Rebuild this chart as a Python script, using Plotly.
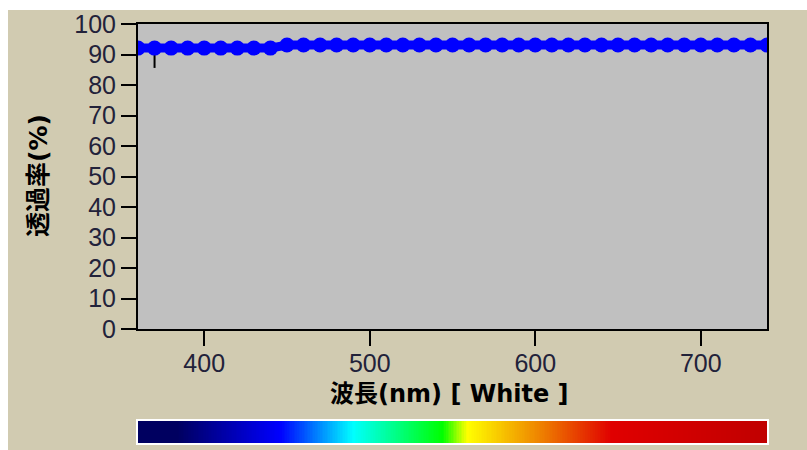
import plotly.graph_objects as go

# Transmittance spectrum of the "White" sample
wavelength_nm = list(range(360, 741, 10))
transmittance = [92.1] * 9 + [93.1] * 30

# single low reading at 370 nm
dip_nm = [370, 370]
dip_pct = [92.1, 85.6]

# visible-spectrum colour strip (wavelength -> colour stops)
spectrum_nm = [360, 384, 446, 490, 544, 559, 598, 646, 740]
spectrum_colors = ["#000060", "#000060", "#0000ff", "#00ffff", "#00ff00",
                   "#ffff00", "#f09000", "#e00000", "#c00000"]

x_ticks = [400, 500, 600, 700]
y_ticks = list(range(0, 101, 10))

W, H = 807, 450
BEIGE = "#d1cbb1"
FONT = "Liberation Sans, Arial, sans-serif"
TITLE_FONT = "DejaVu Sans, Noto Sans CJK JP, sans-serif"

left, right, top, bottom = 138, 767, 24, 329
strip_top, strip_bot = 421, 443

fig = go.Figure()

fig.add_trace(go.Scatter(
    x=dip_nm, y=dip_pct, mode="lines",
    line=dict(color="black", width=2), hoverinfo="skip", showlegend=False,
))
fig.add_trace(go.Scatter(
    x=wavelength_nm, y=transmittance, mode="lines+markers",
    line=dict(color="#0000ff", width=9),
    marker=dict(color="#0000ff", size=15, symbol="circle"),
    showlegend=False,
))

# colour strip below the axis, built from the spectrum stops
lo, hi = spectrum_nm[0], spectrum_nm[-1]
strip_x = [v + 0.5 for v in range(lo, hi)]
colorscale = [[(n - lo) / (hi - lo), c] for n, c in zip(spectrum_nm, spectrum_colors)]
fig.add_trace(go.Heatmap(
    x=strip_x, y=[0], z=[strip_x], colorscale=colorscale,
    zmin=lo, zmax=hi, showscale=False, xaxis="x2", yaxis="y2", hoverinfo="skip",
))

axis_common = dict(
    showgrid=False, zeroline=False, showline=True, linecolor="black", linewidth=2,
    ticks="outside", ticklen=15, tickwidth=2, tickcolor="black", automargin=False,
    tickfont=dict(family=FONT, size=25, color="#22223a"),
)

fig.update_layout(
    template="none",
    width=W, height=H, autosize=False,
    margin=dict(l=0, r=0, t=0, b=0, pad=0),
    paper_bgcolor=BEIGE, plot_bgcolor="#c0c0c0",
    xaxis=dict(domain=[left / W, right / W], range=[lo, hi], tickvals=x_ticks,
               mirror=True, ticklabelstandoff=-4, **axis_common),
    yaxis=dict(domain=[1 - bottom / H, 1 - top / H], range=[0, 100], tickvals=y_ticks,
               mirror=True, **axis_common),
    xaxis2=dict(domain=[left / W, right / W], range=[lo, hi], visible=False,
                anchor="y2", automargin=False),
    yaxis2=dict(domain=[1 - strip_bot / H, 1 - strip_top / H], range=[-0.5, 0.5],
                visible=False, anchor="x2", automargin=False),
    shapes=[
        dict(type="rect", xref="paper", yref="paper", x0=0, x1=8 / W, y0=0, y1=1,
             fillcolor="white", line=dict(width=0)),
        dict(type="rect", xref="paper", yref="paper", x0=0, x1=1, y0=1 - 10 / H, y1=1,
             fillcolor="white", line=dict(width=0)),
        dict(type="rect", xref="paper", yref="paper",
             x0=(left - 1) / W, x1=(right + 1) / W,
             y0=1 - (strip_bot + 1) / H, y1=1 - (strip_top - 1) / H,
             fillcolor="rgba(0,0,0,0)", line=dict(color="white", width=2)),
    ],
    annotations=[
        dict(text="波長(nm) [ White ]", xref="paper", yref="paper",
             x=449 / W, y=1 - 394 / H, xanchor="center", yanchor="middle",
             showarrow=False,
             font=dict(family=TITLE_FONT, size=24, color="black", weight="bold")),
        dict(text="透過率(%)", xref="paper", yref="paper", textangle=-90,
             x=38 / W, y=1 - 176 / H, xanchor="center", yanchor="middle",
             showarrow=False,
             font=dict(family=TITLE_FONT, size=25, color="black", weight="bold")),
    ],
)

fig.write_html("out.html")
